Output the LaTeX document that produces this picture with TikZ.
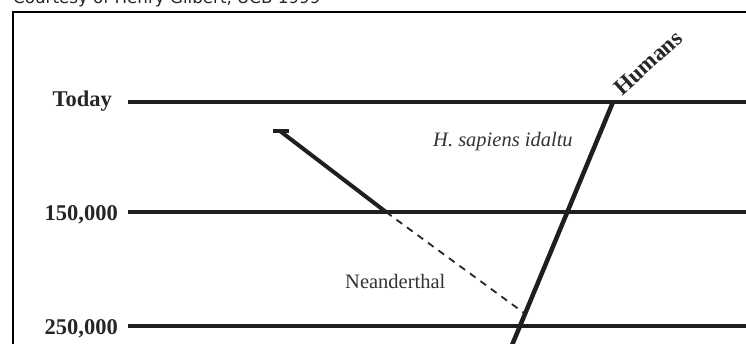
\documentclass[tikz,border=0pt]{standalone}
\usepackage{fontspec}
\setmainfont{Liberation Serif}
\newfontfamily\capfont{DejaVu Sans}
\begin{document}
\begin{tikzpicture}[x=1pt,y=-1pt,
  frameline/.style={line width=2.5pt, draw=black},
  timeline/.style={line width=4.5pt, draw=black!88},
  branch/.style={line width=4pt, draw=black!88},
  ghost/.style={line width=1.8pt, draw=black!85, dash pattern=on 7pt off 6pt},
  datelbl/.style={font=\fontsize{22.5}{24}\selectfont\bfseries, text=black!85, inner sep=0pt, anchor=base east},
  taxonlbl/.style={font=\fontsize{20.5}{22}\selectfont, text=black!80, inner sep=0pt, anchor=base west}]
\useasboundingbox (0,0) rectangle (746,344);
\clip (0,0) rectangle (746,344);
\fill[white] (0,0) rectangle (746,344);
% caption
\node[font=\capfont\fontsize{16.7}{18}\selectfont, text=black!85, inner sep=0pt, anchor=base west] (caption) at (13,4) {Courtesy of Henry Gilbert, UCB 1999};
% frame
\coordinate (fbl) at (13,352);
\coordinate (ftl) at (13,12);
\coordinate (ftr) at (752,12);
\draw[frameline] (fbl) -- (ftl) -- (ftr);
% time lines
\coordinate (t0s) at (128,102); \coordinate (t0e) at (752,102);
\coordinate (t1s) at (128,212); \coordinate (t1e) at (752,212);
\coordinate (t2s) at (128,326); \coordinate (t2e) at (752,326);
\draw[timeline] (t0s) -- (t0e);
\draw[timeline] (t1s) -- (t1e);
\draw[timeline] (t2s) -- (t2e);
\node[datelbl] (today) at (112,107) {Today};
\node[datelbl] (d150) at (118,221) {150,000};
\node[datelbl] (d250) at (118,334) {250,000};
% Neanderthal branch
\coordinate (nTickL) at (273,131);
\coordinate (nTickR) at (289,131);
\coordinate (nTop) at (280,131);
\coordinate (nSplit) at (386,212);
\coordinate (nEnd) at (524,313);
\draw[branch] (nTickL) -- (nTickR);
\draw[branch] (nTop) -- (nSplit);
\draw[ghost] (nSplit) -- (nEnd);
% Humans line
\coordinate (hTop) at (613,102);
\coordinate (hBot) at (510,350);
\draw[branch, line width=4.5pt] (hTop) -- (hBot);
% labels
\node[taxonlbl, font=\fontsize{20.5}{22}\selectfont\itshape] (idaltu) at (433,147) {H. sapiens idaltu};
\node[taxonlbl] (neand) at (345,288) {Neanderthal};
\node[font=\fontsize{23}{24}\selectfont\bfseries, text=black!85, inner sep=0pt, rotate=42] (humans) at (648,63) {Humans};
\end{tikzpicture}
\end{document}
